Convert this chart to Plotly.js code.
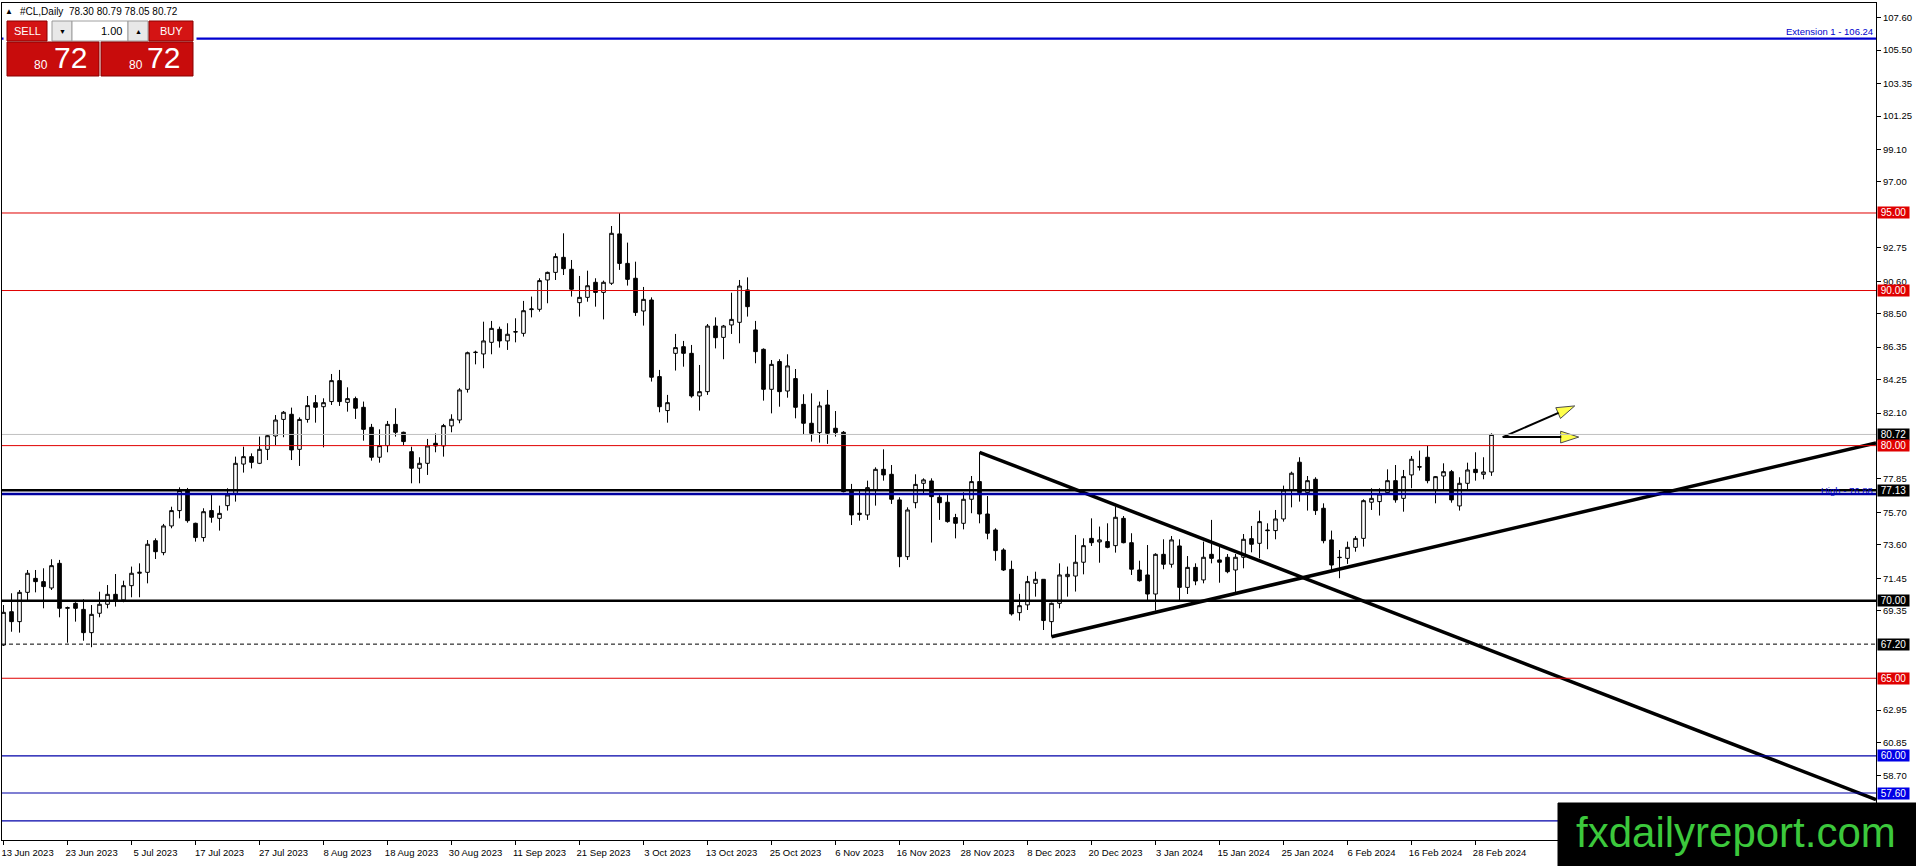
<!DOCTYPE html>
<html><head><meta charset="utf-8">
<script src="https://cdn.plot.ly/plotly-3.0.1.min.js"></script>
<style>html,body{margin:0;padding:0;background:#fff;overflow:hidden}#chart{width:1916px;height:866px}</style>
</head><body><div id="chart"></div>
<script>
// ---- Daily candles #CL, 13 Jun 2023 .. 1 Mar 2024 (one bar per trading day) ----
const openP = [67.14,69.29,68.65,70.54,71.44,71.23,70.82,72.41,69.51,69.83,
69.44,67.94,69.19,69.77,70.41,70.05,70.97,71.77,71.83,73.87,
73.10,74.82,75.81,77.10,74.99,74.07,75.81,75.31,76.13,76.92,
78.81,79.29,78.86,79.76,80.62,81.69,82.02,79.76,81.69,82.77,
82.51,82.84,84.19,82.79,83.03,82.47,81.18,79.25,80.00,81.37,
80.86,79.61,78.54,78.86,80.15,79.98,81.27,81.65,83.63,86.00,
85.91,86.66,87.50,86.75,87.35,87.24,88.77,88.79,90.68,91.17,
92.14,91.37,89.22,89.56,90.53,89.88,90.47,93.65,91.75,90.79,
88.68,89.39,84.45,82.26,85.95,86.38,85.95,83.20,83.48,87.71,
86.98,87.78,87.95,90.04,87.46,86.21,83.63,85.42,83.52,84.32,
82.66,81.44,80.84,82.62,81.12,80.86,77.08,75.64,75.53,77.14,
78.47,78.15,76.50,72.84,76.32,77.57,77.72,76.67,76.35,75.36,
74.99,76.54,77.68,75.59,74.56,73.27,72.02,69.23,69.73,71.12,
71.38,68.65,69.83,71.55,71.59,72.48,74.02,73.79,73.81,73.55,
75.31,73.74,71.98,71.66,70.43,72.99,72.35,73.53,70.86,72.15,
71.34,72.99,72.63,72.80,71.98,72.80,74.00,73.70,74.56,74.52,
75.27,77.14,78.93,76.97,77.83,75.96,73.92,72.80,72.73,73.44,
74.02,76.35,76.39,76.97,77.74,76.60,78.11,78.64,79.25,77.14,
78.04,78.32,76.11,77.57,78.47,78.15,78.30];
const highP = [69.72,70.48,70.69,71.98,71.98,72.09,72.67,72.63,69.62,69.90,
70.09,69.72,70.58,71.01,71.72,71.29,72.20,72.41,73.91,74.02,
74.95,76.06,77.31,77.27,75.03,75.96,76.82,76.13,77.25,79.29,
79.93,79.50,80.58,80.68,81.97,82.23,82.45,81.82,83.20,83.26,
83.05,84.62,84.88,83.76,83.16,82.84,81.40,81.05,81.59,82.41,
80.90,79.93,79.25,80.43,80.79,81.40,82.02,83.70,86.06,86.12,
87.99,88.04,87.67,87.89,88.21,89.33,89.61,90.79,91.22,92.40,
93.69,91.97,90.94,91.28,90.79,90.64,94.16,94.98,93.09,91.86,
90.23,89.56,84.88,83.27,87.20,86.75,86.49,85.20,87.84,88.27,
87.78,89.86,90.68,90.85,88.04,86.27,85.52,85.57,85.89,84.94,
83.31,83.37,82.84,83.59,82.23,80.94,77.53,77.10,77.74,78.60,
79.76,78.75,76.67,76.02,78.15,77.89,77.89,76.82,76.93,75.60,
76.99,78.04,79.57,76.75,74.67,73.38,72.58,70.44,71.60,71.87,
71.38,69.88,72.41,72.20,74.24,74.02,75.31,74.78,74.99,76.07,
75.46,74.35,72.58,73.59,73.06,73.96,74.17,73.96,72.88,72.41,
73.81,75.21,73.53,73.01,73.01,74.30,74.82,75.81,74.99,75.85,
77.42,78.32,79.25,78.04,77.96,76.28,74.52,73.27,73.81,74.17,
76.54,77.25,77.25,78.47,78.75,78.43,79.33,79.68,79.98,78.04,
78.86,78.43,77.96,78.90,79.57,79.25,80.79];
const lowP = [67.08,68.00,67.94,69.94,70.54,69.51,70.69,68.93,67.29,68.65,
67.42,67.00,68.93,69.51,69.62,69.90,70.22,70.22,71.12,72.69,
72.93,74.67,75.31,75.03,73.81,73.81,75.03,74.52,75.81,76.39,
78.26,78.53,78.81,79.07,80.04,80.54,79.07,78.69,81.48,81.48,
79.89,82.62,82.56,82.19,81.72,80.32,79.03,78.90,79.57,80.58,
80.04,77.57,77.57,78.11,79.57,79.29,80.86,81.44,83.42,85.24,
84.99,85.89,86.32,86.17,86.66,87.03,88.27,88.64,89.18,90.68,
91.00,89.61,88.32,89.28,88.96,88.14,90.36,91.33,90.32,88.36,
87.74,84.13,82.15,81.48,84.84,85.09,83.09,82.26,83.27,86.27,
85.57,87.20,86.60,88.32,85.31,82.90,82.08,82.51,83.09,81.76,
80.73,80.26,80.19,80.11,80.58,76.99,74.88,75.16,75.21,76.13,
77.74,76.24,72.16,72.63,75.96,76.82,73.75,75.21,75.03,74.02,
74.60,75.64,74.99,73.96,72.58,71.92,69.04,68.72,69.40,70.26,
68.11,67.68,69.51,70.26,70.59,71.70,73.53,72.45,73.38,73.10,
73.70,71.66,71.23,70.00,69.36,72.03,72.13,70.00,70.43,71.00,
71.12,72.41,71.16,71.77,70.52,72.09,73.12,72.73,73.32,73.96,
75.10,76.02,76.39,75.81,75.53,73.70,71.88,71.45,72.37,73.16,
73.49,75.85,75.49,76.82,76.32,75.74,77.25,78.39,77.57,76.28,
77.18,76.32,75.81,77.18,77.74,77.83,78.05];
const closeP = [69.25,68.65,70.54,71.77,71.23,70.91,72.26,69.51,69.55,69.51,
67.94,69.12,69.77,70.41,70.00,70.97,71.77,71.83,73.64,73.16,
74.82,75.81,77.10,75.16,74.07,75.74,75.38,75.63,76.82,78.86,
79.29,78.92,79.76,80.64,81.65,82.15,79.72,81.69,82.58,82.47,
82.77,84.19,82.84,83.03,82.41,81.05,79.25,80.00,81.37,80.86,
80.26,78.54,78.86,79.98,79.98,81.29,81.70,83.59,85.99,86.02,
86.75,87.56,86.75,87.18,87.33,88.70,88.81,90.64,91.17,92.19,
91.41,90.08,89.56,90.31,89.88,90.53,93.69,91.75,90.72,88.58,
89.43,84.41,82.51,82.77,86.32,85.95,83.20,83.48,87.71,86.96,
87.71,88.14,90.29,88.96,86.06,83.63,85.24,83.48,85.14,82.47,
81.44,80.79,82.56,80.79,80.84,77.03,75.53,75.57,77.29,78.47,
78.11,76.54,72.84,75.85,77.50,77.79,76.71,76.32,75.10,74.99,
76.54,77.68,75.59,74.35,73.23,71.98,69.15,69.68,71.23,71.38,
68.72,69.83,71.66,71.70,72.48,73.55,73.74,73.92,73.44,75.38,
73.74,72.03,71.29,70.43,72.99,72.35,73.92,70.86,72.15,71.27,
72.80,72.73,72.48,71.87,72.80,73.96,73.64,75.10,74.52,75.27,
77.14,78.22,76.97,77.74,75.81,73.87,72.30,72.78,73.44,74.02,
76.45,76.60,76.88,77.74,76.50,78.00,79.12,78.62,77.74,78.00,
78.32,76.50,77.57,78.43,78.26,78.30,80.72];

// ---- axis ticks ----
const dateTickBars = [0,8,16,24,32,40,48,56,64,72,80,88,96,104,112,120,128,136,144,152,160,168,176,184];
const dateTickLabels = ['13 Jun 2023','23 Jun 2023','5 Jul 2023','17 Jul 2023','27 Jul 2023','8 Aug 2023',
 '18 Aug 2023','30 Aug 2023','11 Sep 2023','21 Sep 2023','3 Oct 2023','13 Oct 2023','25 Oct 2023',
 '6 Nov 2023','16 Nov 2023','28 Nov 2023','8 Dec 2023','20 Dec 2023','3 Jan 2024','15 Jan 2024',
 '25 Jan 2024','6 Feb 2024','16 Feb 2024','28 Feb 2024'];
// visible scale labels (the ones hidden behind level boxes are left out)
const priceTickVals = [107.60,105.50,103.35,101.25,99.10,97.00,92.75,90.60,88.50,86.35,84.25,82.10,
 77.85,75.70,73.60,71.45,69.35,62.95,60.85,58.70];
const priceTickText = ['107.60','105.50','103.35','101.25','99.10','97.00','92.75','90.60','88.50',
 '86.35','84.25','82.10','77.85','75.70','73.60','71.45','69.35','62.95','60.85','58.70'];

// ---- drawn levels ----
const redLevels = [95.00, 90.00, 80.00, 65.00];
const blueLevels = [60.00, 57.60, 55.80];
const extensionLevel = 106.24;
const highLevel = 76.88;
const blackLevels = [77.13, 70.00];
const dashedLevel = 67.20;
const bidLevel = 80.72;

// ---- trend lines & arrows (bar index, price) ----
const trendDownX = [122, 234.06], trendDownY = [79.57, 57.17];
const trendUpX = [131, 234.06], trendUpY = [67.68, 80.17];
const arrowStart = [187.4, 80.55];
const arrowUpTip = [196.4, 82.56];
const arrowFlatTip = [196.9, 80.55];

// ---- right-side price boxes ----
const boxValues = [95.00, 90.00, 80.72, 80.00, 77.13, 70.00, 67.20, 65.00, 60.00, 57.60];
const boxTexts  = ['95.00','90.00','80.72','80.00','77.13','70.00','67.20','65.00','60.00','57.60'];
const boxColors = ['#e00000','#e00000','#000000','#e00000','#000000','#000000','#000000','#e00000','#0000e6','#0000e6'];

const bars = openP.map((_, i) => i);
const FONT = 'Liberation Sans, Arial, sans-serif';

// page-pixel helpers for overlay widgets (plot area: x 2..1876, y 3..840)
const PL = 2, PR = 1876, PT = 3, PB = 840;
const px = v => (v - PL) / (PR - PL);
const py = v => (PB - v) / (PB - PT);

function hline(y, color, width, dash) {
  return {type:'line', xref:'paper', x0:0, x1:1, yref:'y', y0:y, y1:y,
          line:{color:color, width:width, dash:dash || 'solid'}, layer:'above'};
}
function rect(x0, y0, x1, y1, fill, lineColor) {
  return {type:'rect', xref:'paper', yref:'paper', x0:px(x0), x1:px(x1), y0:py(y1), y1:py(y0),
          fillcolor:fill, line:{color:lineColor || fill, width:1}, layer:'above'};
}
function txt(x, y, text, size, color, xanchor, extra) {
  return Object.assign({xref:'paper', yref:'paper', x:px(x), y:py(y), text:text, showarrow:false,
          xanchor:xanchor || 'center', yanchor:'middle', font:{family:FONT, size:size, color:color}}, extra || {});
}

const shapes = [];
shapes.push(hline(bidLevel, '#c0c0c0', 1));
redLevels.forEach(v => shapes.push(hline(v, '#e00000', 1)));
blueLevels.forEach(v => shapes.push(hline(v, '#0000a8', 1.2)));
shapes.push(hline(extensionLevel, '#0000d0', 2.2));
shapes.push(hline(highLevel, '#0000a0', 2.5));
blackLevels.forEach(v => shapes.push(hline(v, '#000000', 2.5)));
shapes.push(hline(dashedLevel, '#000000', 1, '4px,3px'));

// trading panel (top-left)
shapes.push(rect(4, 18, 196, 78, '#ffffff', '#ffffff'));
shapes.push(rect(7, 21, 47, 41, '#d41414', '#8a0000'));
shapes.push(rect(52, 21, 72, 41, '#e8e8e8', '#9a9a9a'));
shapes.push(rect(72, 21, 128, 41, '#ffffff', '#a0a0a0'));
shapes.push(rect(128, 21, 148, 41, '#e8e8e8', '#9a9a9a'));
shapes.push(rect(149, 21, 193, 41, '#d41414', '#8a0000'));
shapes.push(rect(7, 42, 99, 76, '#c80c0c', '#8a0000'));
shapes.push(rect(101, 42, 193, 76, '#c80c0c', '#8a0000'));
// watermark box
shapes.push(rect(1558, 803, 1918, 868, '#000000', '#000000'));

const annotations = [];
boxValues.forEach((v, i) => annotations.push({
  xref:'paper', x:1, xanchor:'left', xshift:1, yref:'y', y:v, yanchor:'middle',
  text:boxTexts[i], showarrow:false, bgcolor:boxColors[i], width:31, height:11, borderpad:0, align:'center',
  font:{family:FONT, size:10, color:'#ffffff'}
}));
annotations.push({xref:'paper', x:1, xanchor:'right', xshift:-1, yref:'y', y:extensionLevel, yanchor:'bottom', yshift:0,
  text:'Extension 1 - 106.24', showarrow:false, font:{family:FONT, size:9.5, color:'#0000cc'}});
annotations.push({xref:'paper', x:1, xanchor:'right', xshift:-1, yref:'y', y:highLevel, yanchor:'middle', yshift:4,
  text:'High - 76.88', showarrow:false, font:{family:FONT, size:9.5, color:'#0000cc'}});
// header + panel texts
annotations.push(txt(9, 11, '▲', 8, '#000', 'center'));
annotations.push(txt(18, 11, '#CL,Daily  78.30 80.79 78.05 80.72', 10, '#000', 'left'));
annotations.push(txt(27, 31, 'SELL', 11, '#ffffff'));
annotations.push(txt(62, 31, '▼', 7, '#000'));
annotations.push(txt(124, 31, '1.00', 11, '#000', 'right'));
annotations.push(txt(138, 31, '▲', 7, '#000'));
annotations.push(txt(171, 31, 'BUY', 11, '#ffffff'));
annotations.push(txt(41, 65, '80', 12, '#ffffff'));
annotations.push(txt(70, 58, '72', 30, '#ffffff'));
annotations.push(txt(136, 65, '80', 12, '#ffffff'));
annotations.push(txt(163, 58, '72', 30, '#ffffff'));
annotations.push(txt(1736, 832, 'fxdailyreport.com', 42, '#3cc83c'));

const traces = [
  {type:'candlestick', x:bars, open:openP, high:highP, low:lowP, close:closeP,
   increasing:{line:{color:'#000000', width:1}, fillcolor:'#ffffff'},
   decreasing:{line:{color:'#000000', width:1}, fillcolor:'#000000'},
   whiskerwidth:0, hoverinfo:'skip', showlegend:false},
  {type:'scatter', mode:'lines', x:trendDownX, y:trendDownY, line:{color:'#000000', width:3.5}, hoverinfo:'skip'},
  {type:'scatter', mode:'lines', x:trendUpX, y:trendUpY, line:{color:'#000000', width:3.5}, hoverinfo:'skip'},
  {type:'scatter', mode:'lines+markers', x:[arrowStart[0], arrowUpTip[0]], y:[arrowStart[1], arrowUpTip[1]],
   line:{color:'#000000', width:2}, hoverinfo:'skip', cliponaxis:false,
   marker:{symbol:'arrow', size:[0, 19], angleref:'previous', color:'#ffff00', line:{color:'#000000', width:1}}},
  {type:'scatter', mode:'lines+markers', x:[arrowStart[0], arrowFlatTip[0]], y:[arrowStart[1], arrowFlatTip[1]],
   line:{color:'#000000', width:2}, hoverinfo:'skip', cliponaxis:false,
   marker:{symbol:'arrow', size:[0, 19], angleref:'previous', color:'#ffff00', line:{color:'#000000', width:1}}}
];

const layout = {
  width:1916, height:866,
  margin:{l:PL, r:1916 - PR, t:PT, b:866 - PB, pad:0},
  paper_bgcolor:'#ffffff', plot_bgcolor:'#ffffff',
  showlegend:false, boxgap:0.35,
  font:{family:FONT, size:10, color:'#000000'},
  xaxis:{range:[-0.19, 234.06], rangeslider:{visible:false}, showgrid:false, zeroline:false,
    showline:true, mirror:true, linecolor:'#000000', linewidth:1,
    ticks:'outside', ticklen:4, tickcolor:'#000000', tickvals:dateTickBars, ticktext:dateTickLabels,
    ticklabelshift:24, tickfont:{family:FONT, size:9.5, color:'#000000'}, fixedrange:true},
  yaxis:{side:'right', range:[54.57, 108.54], showgrid:false, zeroline:false,
    showline:true, mirror:true, linecolor:'#000000', linewidth:1,
    ticks:'outside', ticklen:4, tickcolor:'#000000', tickvals:priceTickVals, ticktext:priceTickText,
    tickfont:{family:FONT, size:9.5, color:'#000000'}, fixedrange:true},
  shapes:shapes, annotations:annotations
};

Plotly.newPlot('chart', traces, layout, {displayModeBar:false, staticPlot:true});
</script>
</body></html>
